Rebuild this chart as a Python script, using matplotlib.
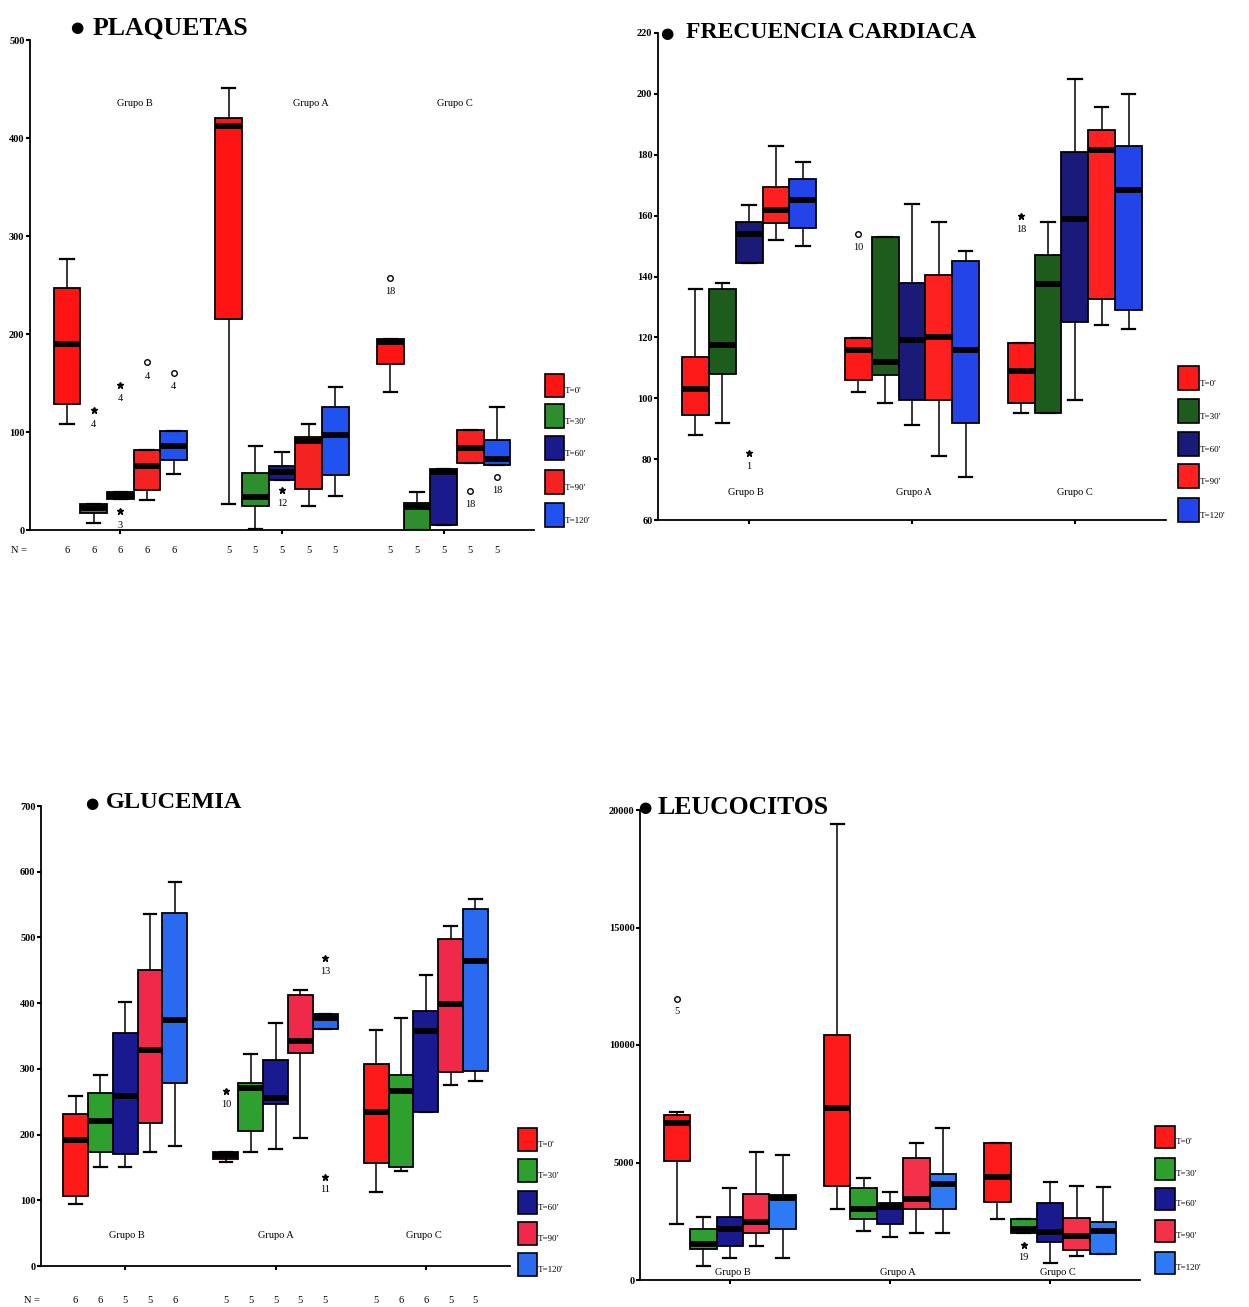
import matplotlib.pyplot as plt
from matplotlib.patches import Rectangle
from matplotlib.transforms import blended_transform_factory

plt.rcParams['font.family'] = ['Liberation Serif', 'DejaVu Serif']

W, H = 1249, 1307

groups = ['Grupo B', 'Grupo A', 'Grupo C']
times = ["T=0'", "T=30'", "T=60'", "T=90'", "T=120'"]

# each series: 15 boxes -> Grupo B (T0..T120), Grupo A, Grupo C
# PLAQUETAS
plaq_lo = [108, 7, 32, 31, 57, 27, 1, 51, 24, 35, 141, 0, 5, 68, 66]
plaq_q1 = [129, 17, 32, 41, 71, 215, 24, 51, 42, 56, 169, 0, 5, 68, 66]
plaq_med = [190, 22, 35, 65, 86, 412, 34, 59, 91, 97, 192, 23, 59, 84, 72]
plaq_q3 = [247, 27, 39, 82, 101, 420, 58, 65, 95, 126, 195, 28, 62, 102, 92]
plaq_hi = [277, 27, 39, 82, 101, 451, 86, 80, 108, 146, 195, 39, 62, 102, 126]
plaq_out_box = [1, 2, 2, 3, 4, 7, 10, 13, 14]
plaq_out_val = [122, 148, 19, 171, 160, 41, 257, 40, 54]
plaq_out_lab = ['4', '4', '3', '4', '4', '12', '18', '18', '18']
plaq_out_mark = ['*', '*', '*', 'o', 'o', '*', 'o', 'o', 'o']
plaq_n = [6, 6, 6, 6, 6, 5, 5, 5, 5, 5, 5, 5, 5, 5, 5]

# FRECUENCIA CARDIACA
fc_lo = [88, 92, 144.5, 152, 150, 102, 98.3, 91.2, 81, 74, 95, 95, 99.5, 124, 122.8]
fc_q1 = [94.6, 108, 144.5, 157.7, 156, 106, 107.7, 99.5, 99.5, 92, 98.3, 95, 125, 132.5, 129]
fc_med = [103, 117.5, 154, 162, 165, 116, 112, 119, 120, 116, 109, 137.5, 159, 181.4, 168.3]
fc_q3 = [113.5, 136, 158, 169.5, 172, 119.7, 153, 138, 140.5, 145, 118, 147, 181, 188, 183]
fc_hi = [136, 138, 163.4, 183, 177.7, 119.7, 153, 163.7, 158, 148.5, 118, 158, 204.8, 195.6, 200]
fc_out_box = [2, 5, 10]
fc_out_val = [82, 154, 160]
fc_out_lab = ['1', '10', '18']
fc_out_mark = ['*', 'o', '*']

# GLUCEMIA
glu_lo = [95, 151, 151, 174, 183, 159, 174, 178, 195, 361, 113, 145, 235, 275, 282]
glu_q1 = [107, 173, 171, 218, 279, 163, 205, 247, 324, 361, 156, 151, 235, 295, 297]
glu_med = [191, 220, 258, 328, 375, 169, 271, 256, 342, 377, 234, 266, 357, 399, 464]
glu_q3 = [231, 264, 355, 451, 537, 174, 279, 314, 412, 383, 307, 290, 388, 497, 543]
glu_hi = [259, 290, 402, 536, 584, 174, 323, 370, 420, 383, 359, 377, 443, 517, 558]
glu_out_box = [5, 9, 9]
glu_out_val = [266, 468, 136]
glu_out_lab = ['10', '13', '11']
glu_out_mark = ['*', '*', '*']
glu_n = [6, 6, 5, 5, 6, 5, 5, 5, 5, 5, 5, 6, 6, 5, 5]

# LEUCOCITOS
leu_lo = [2365, 575, 930, 1460, 930, 3040, 2080, 1835, 1980, 1980, 2610, 1980, 715, 1030, 1120]
leu_q1 = [5045, 1320, 1430, 2005, 2150, 3985, 2580, 2365, 3040, 3010, 3300, 1980, 1605, 1290, 1120]
leu_med = [6700, 1530, 2150, 2465, 3470, 7340, 3040, 3125, 3440, 4085, 4370, 2150, 2035, 1865, 2080]
leu_q3 = [7020, 2180, 2680, 3650, 3610, 10430, 3900, 3270, 5190, 4515, 5850, 2580, 3270, 2650, 2465]
leu_hi = [7165, 2680, 3900, 5445, 5330, 19420, 4330, 3725, 5850, 6450, 5850, 2580, 4185, 4010, 3940]
leu_out_box = [0, 11]
leu_out_val = [11965, 1505]
leu_out_lab = ['5', '19']
leu_out_mark = ['o', '*']

STEP = 0.165
positions = [g + 1 + (t - 2) * STEP for g in range(3) for t in range(5)]


def px_axes(fig, left, right, top, bottom):
    return fig.add_axes([left / W, 1 - bottom / H, (right - left) / W, (bottom - top) / H])


def draw_panel(ax, lo, q1, med, q3, hi, colors, ylim, yticks, ylabels,
               out_box, out_val, out_lab, out_mark, glx, gly):
    stats = []
    for i in range(15):
        stats.append({'whislo': lo[i], 'q1': q1[i], 'med': med[i],
                      'q3': q3[i], 'whishi': hi[i], 'fliers': []})
    bp = ax.bxp(stats, positions=positions, widths=STEP, patch_artist=True,
                showfliers=False, manage_ticks=False,
                boxprops=dict(edgecolor='black', linewidth=1.3),
                medianprops=dict(color='black', linewidth=4.2, solid_capstyle='butt'),
                whiskerprops=dict(color='black', linewidth=1.1),
                capprops=dict(color='black', linewidth=1.6))
    for i, patch in enumerate(bp['boxes']):
        patch.set_facecolor(colors[i % 5])

    off = (ylim[1] - ylim[0]) * 0.028
    for b, v, lab, m in zip(out_box, out_val, out_lab, out_mark):
        if m == 'o':
            ax.plot(positions[b], v, marker='o', ms=4, mfc='white', mec='black', mew=1)
        else:
            ax.plot(positions[b], v, marker='*', ms=4.5, color='black')
        ax.text(positions[b], v - off, lab, ha='center', va='center', fontsize=7.5)

    for x, g in zip(glx, groups):
        ax.text(x, gly, g, ha='center', va='center', fontsize=7.5)

    ax.set_xlim(0.44, 3.56)
    ax.set_ylim(*ylim)
    ax.set_xticks([1, 2, 3])
    ax.set_xticklabels([])
    ax.set_yticks(yticks)
    ax.set_yticklabels(ylabels, fontsize=7.5, fontweight='bold')
    ax.tick_params(axis='both', direction='out', length=3, width=1.5, pad=1)
    for s in ['top', 'right']:
        ax.spines[s].set_visible(False)
    for s in ['left', 'bottom']:
        ax.spines[s].set_linewidth(1.3)


def draw_n_row(ax, counts, yfrac, nx):
    tr = blended_transform_factory(ax.transData, ax.transAxes)
    ax.text(nx, yfrac, 'N =', transform=tr, ha='center', va='center', fontsize=7.5)
    for p, n in zip(positions, counts):
        ax.text(p, yfrac, str(n), transform=tr, ha='center', va='center', fontsize=7.5)


def draw_legend(fig, x0, ycs, w, h, colors):
    for yc, c, lab in zip(ycs, colors, times):
        fig.add_artist(Rectangle((x0 / W, 1 - (yc + h / 2) / H), w / W, h / H,
                                 transform=fig.transFigure, facecolor=c,
                                 edgecolor='black', linewidth=1.2))
        fig.text((x0 + w + 1) / W, 1 - (yc + h * 0.25) / H, lab,
                 ha='left', va='center', fontsize=6.5)


def draw_title(fig, bx, tx, y, text, size=18.5):
    fig.text(bx / W, 1 - y / H, '\u25CF', ha='center', va='center',
             fontsize=11, family='DejaVu Sans')
    fig.text(tx / W, 1 - y / H, text, ha='left', va='center',
             fontsize=size, fontweight='bold')


fig = plt.figure(figsize=(W / 100, H / 100), dpi=100)

plaq_colors = ['#FF1414', '#2E8E2E', '#1A1A8C', '#F52222', '#2052F0']
fc_colors = ['#FF1A1A', '#1E5C1E', '#1A1A78', '#FF2020', '#2244E8']
glu_colors = ['#FF1A1A', '#2EA02E', '#1A1A90', '#F0284A', '#2A6AF0']
leu_colors = ['#FF1A1A', '#2E9E2E', '#1A1A90', '#F5304A', '#2E7AF5']

ax1 = px_axes(fig, 30, 534, 40, 530)
draw_panel(ax1, plaq_lo, plaq_q1, plaq_med, plaq_q3, plaq_hi, plaq_colors,
           (0, 500), [0, 100, 200, 300, 400, 500], ['0', '100', '200', '300', '400', '500'],
           plaq_out_box, plaq_out_val, plaq_out_lab, plaq_out_mark,
           [1.09, 2.18, 3.07], 435)
draw_n_row(ax1, plaq_n, -0.041, 0.37)
draw_legend(fig, 545, [385, 416, 448, 482, 515], 19, 23, plaq_colors)
draw_title(fig, 77, 93, 28, 'PLAQUETAS')

ax2 = px_axes(fig, 658, 1166, 33, 520)
draw_panel(ax2, fc_lo, fc_q1, fc_med, fc_q3, fc_hi, fc_colors,
           (60, 220), list(range(60, 221, 20)), [str(v) for v in range(60, 221, 20)],
           fc_out_box, fc_out_val, fc_out_lab, fc_out_mark,
           [0.98, 2.01, 3.0], 69)
draw_legend(fig, 1178, [378, 411, 444, 476, 510], 21, 24, fc_colors)
draw_title(fig, 667, 686, 33, 'FRECUENCIA CARDIACA', size=17)

ax3 = px_axes(fig, 41, 510, 806, 1266)
draw_panel(ax3, glu_lo, glu_q1, glu_med, glu_q3, glu_hi, glu_colors,
           (0, 700), list(range(0, 701, 100)), [str(v) for v in range(0, 701, 100)],
           glu_out_box, glu_out_val, glu_out_lab, glu_out_mark,
           [1.01, 2.0, 2.99], 46)
draw_n_row(ax3, glu_n, -0.074, 0.38)
draw_legend(fig, 518, [1139, 1170, 1202, 1233, 1264], 19, 23, glu_colors)
draw_title(fig, 92, 106, 803, 'GLUCEMIA', size=17.5)

ax4 = px_axes(fig, 640, 1140, 810, 1280)
draw_panel(ax4, leu_lo, leu_q1, leu_med, leu_q3, leu_hi, leu_colors,
           (0, 20000), [0, 5000, 10000, 15000, 20000], ['0', '5000', '10000', '15000', '20000'],
           leu_out_box, leu_out_val, leu_out_lab, leu_out_mark,
           [1.02, 2.05, 3.05], 300)
draw_legend(fig, 1155, [1137, 1169, 1199, 1231, 1263], 20, 22, leu_colors)
draw_title(fig, 645, 657, 808, 'LEUCOCITOS')

fig.savefig('out.png', dpi=100)
